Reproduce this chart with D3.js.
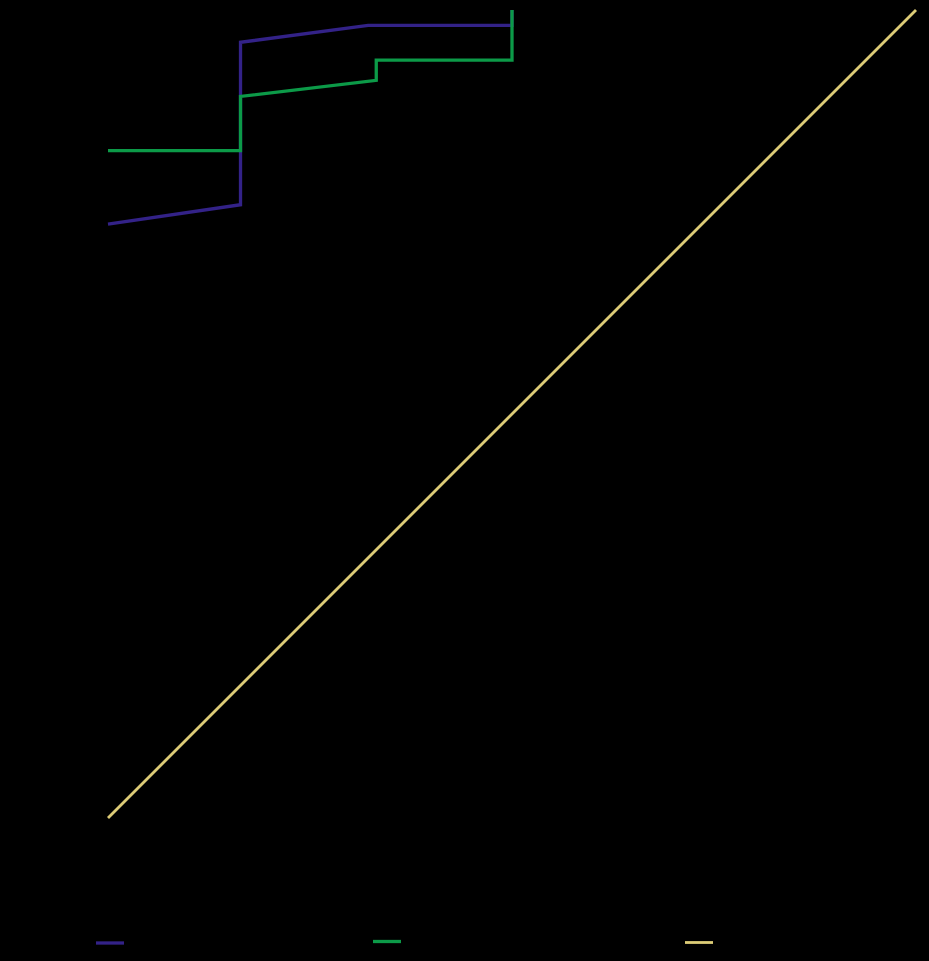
<!DOCTYPE html>
<html>
<head>
<meta charset="utf-8">
<script src="https://cdn.jsdelivr.net/npm/d3@7"></script>
<style>
  html, body { margin: 0; padding: 0; background: #000; }
  svg { display: block; }
</style>
</head>
<body>
<script>
// Data (x: false positive rate, y: true positive rate)
const seriesNames = ["Model A", "Model B", "Chance"];
const seriesColors = ["#332288", "#0c9a48", "#ddcc77"];
const modelAX = [0, 0.164, 0.164, 0.322, 0.5, 0.5];
const modelAY = [0.735, 0.759, 0.960, 0.981, 0.981, 1.0];
const modelBX = [0, 0.164, 0.164, 0.332, 0.332, 0.5, 0.5];
const modelBY = [0.826, 0.826, 0.893, 0.913, 0.938, 0.938, 1.0];
const chanceX = [0, 1];
const chanceY = [0, 1];
const tickValues = [0, 0.2, 0.4, 0.6, 0.8, 1.0];

const W = 929, H = 961;
const margin = { left: 108, right: 13, top: 10, bottom: 143 };
const svg = d3.select("body").append("svg").attr("width", W).attr("height", H);

const x = d3.scaleLinear().domain([0, 1]).range([margin.left, W - margin.right]);
const y = d3.scaleLinear().domain([0, 1]).range([H - margin.bottom, margin.top]);

// axes (black, as in the reference)
svg.append("g").attr("transform", `translate(0,${H - margin.bottom})`)
  .call(d3.axisBottom(x).tickValues(tickValues).tickFormat(d3.format(".1f")))
  .call(g => g.selectAll("path,line").attr("stroke", "#000"))
  .call(g => g.selectAll("text").attr("fill", "#000").attr("font-size", 14).attr("font-family", "DejaVu Sans"));
svg.append("g").attr("transform", `translate(${margin.left},0)`)
  .call(d3.axisLeft(y).tickValues(tickValues).tickFormat(d3.format(".1f")))
  .call(g => g.selectAll("path,line").attr("stroke", "#000"))
  .call(g => g.selectAll("text").attr("fill", "#000").attr("font-size", 14).attr("font-family", "DejaVu Sans"));

svg.append("text").attr("x", (x(0) + x(1)) / 2).attr("y", H - margin.bottom + 50)
  .attr("text-anchor", "middle").attr("fill", "#000").attr("font-size", 16)
  .attr("font-family", "DejaVu Sans").text("False Positive Rate");
svg.append("text").attr("transform", `translate(50,${(y(0) + y(1)) / 2}) rotate(-90)`)
  .attr("text-anchor", "middle").attr("fill", "#000").attr("font-size", 16)
  .attr("font-family", "DejaVu Sans").text("True Positive Rate");

const line = d3.line().x(d => x(d[0])).y(d => y(d[1]));
const series = [
  d3.zip(modelAX, modelAY),
  d3.zip(modelBX, modelBY),
  d3.zip(chanceX, chanceY)
];
const widths = [3.3, 3.3, 2.8];
// draw chance first, then A, then B (B on top as in the reference)
[2, 0, 1].forEach(i => {
  svg.append("path").datum(series[i])
    .attr("fill", "none").attr("stroke", seriesColors[i])
    .attr("stroke-width", widths[i]).attr("stroke-linejoin", "miter")
    .attr("d", line);
});

// legend
const legendX = [96, 373, 685];
const legendY = [943, 941.5, 942.5];
seriesNames.forEach((name, i) => {
  const g = svg.append("g").attr("transform", `translate(${legendX[i]},${legendY[i]})`);
  g.append("line").attr("x1", 0).attr("x2", 28).attr("y1", 0).attr("y2", 0)
    .attr("stroke", seriesColors[i]).attr("stroke-width", widths[i]);
  g.append("text").attr("x", 36).attr("y", 5).attr("fill", "#000")
    .attr("font-size", 14).attr("font-family", "DejaVu Sans").text(name);
});
</script>
</body>
</html>
